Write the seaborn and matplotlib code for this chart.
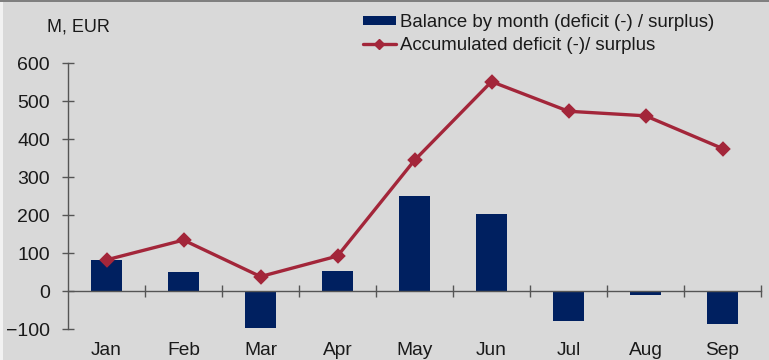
import matplotlib
matplotlib.use("Agg")
import matplotlib.pyplot as plt
from matplotlib.patches import Patch, Rectangle
from matplotlib.lines import Line2D
import seaborn as sns
import pandas as pd

months = ["Jan", "Feb", "Mar", "Apr", "May", "Jun", "Jul", "Aug", "Sep"]
monthly_balance = [82, 49, -98, 52, 250, 203, -79, -11, -88]
accumulated = [82, 134, 38, 92, 344, 551, 473, 461, 375]
y_ticks = [-100, 0, 100, 200, 300, 400, 500, 600]

bar_label = "Balance by month (deficit (-) / surplus)"
line_label = "Accumulated deficit (-)/ surplus"
unit_label = "M, EUR"

BG = "#d9d9d9"
NAVY = "#002060"
RED = "#a3263a"
AXIS = "#555555"
TEXT = "#1a1a1a"

sns.set_theme(style="white")
plt.rcParams["font.family"] = ["Liberation Sans", "DejaVu Sans"]
plt.rcParams["text.color"] = TEXT

df = pd.DataFrame({"month": months, "balance": monthly_balance, "accum": accumulated})

fig = plt.figure(figsize=(7.69, 3.60), dpi=100, facecolor=BG)
ax = fig.add_axes([68 / 769, 31 / 360, (761 - 68) / 769, (329 - 63) / 360])
ax.set_facecolor(BG)

sns.barplot(data=df, x="month", y="balance", color=NAVY, width=0.39,
            saturation=1, linewidth=0, errorbar=None, ax=ax)
sns.pointplot(data=df, x="month", y="accum", color=RED, markers="D",
              markersize=6.5, linewidth=2.4, errorbar=None, ax=ax)

ax.set_xlim(-0.5, len(months) - 0.5)
ax.set_ylim(-100, 600)
ax.set_yticks(y_ticks)
ax.set_xlabel("")
ax.set_ylabel("")

for s in ("top", "right"):
    ax.spines[s].set_visible(False)
ax.spines["left"].set_color(AXIS)
ax.spines["left"].set_linewidth(1.0)
ax.spines["bottom"].set_position(("data", 0))
ax.spines["bottom"].set_color(AXIS)
ax.spines["bottom"].set_linewidth(1.0)

ax.tick_params(axis="y", which="major", direction="inout", length=8, width=1,
               color=AXIS, labelsize=14, labelcolor=TEXT, pad=9, left=True)
ax.set_xticks(range(len(months)))
ax.set_xticklabels(months)
ax.set_xticks([i + 0.5 for i in range(len(months))], minor=True)
ax.tick_params(axis="x", which="major", length=0, labelsize=13.8,
               labelcolor=TEXT, pad=37)
ax.tick_params(axis="x", which="minor", direction="inout", length=8, width=1,
               color=AXIS, bottom=True)

fig.text(47 / 769, 1 - 27 / 360, unit_label, fontsize=13, va="center", ha="left")

handles = [Patch(facecolor=NAVY, edgecolor="none"),
           Line2D([], [], color=RED, linewidth=2.4, marker="D", markersize=5)]
fig.legend(handles, [bar_label, line_label], loc="upper left",
           bbox_to_anchor=(363 / 769, 1 - 14 / 360), frameon=False,
           fontsize=13.4, borderpad=0, borderaxespad=0, handlelength=1.75,
           handleheight=0.4, handletextpad=0.22, labelspacing=0.3)

# thin frame accents along the top and left edges
fig.add_artist(Rectangle((0, 1 - 2 / 360), 1, 2 / 360, transform=fig.transFigure,
                         facecolor="#808080", edgecolor="none"))
fig.add_artist(Rectangle((0, 0), 3 / 769, 1 - 2 / 360, transform=fig.transFigure,
                         facecolor="#f2f2f2", edgecolor="none"))

fig.savefig("out.png", dpi=100, facecolor=BG)
